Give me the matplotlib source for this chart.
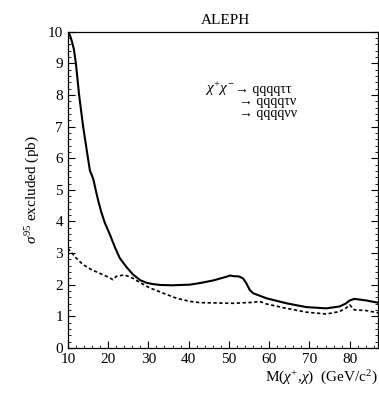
import matplotlib
matplotlib.use("Agg")
import matplotlib.pyplot as plt
from matplotlib.ticker import MultipleLocator

plt.rcParams['font.family'] = ['Liberation Serif', 'DejaVu Serif']
plt.rcParams['mathtext.fontset'] = 'custom'
plt.rcParams['mathtext.rm'] = 'Liberation Serif'
plt.rcParams['mathtext.it'] = 'Liberation Serif:italic'

# 95% CL excluded cross section, all channels combined (solid)
mass_all = [10, 10.5, 11, 11.5, 12, 12.4, 12.8, 13.3, 13.8, 14.4, 15, 15.5, 16.0,
            16.4, 17, 17.5, 18.3, 19.2, 20.4, 21.7, 22.9, 24.6, 26.2, 28, 29.5,
            31, 33, 36, 40.3, 42.8, 46, 49.4, 50.3, 51, 52.5, 53.5, 54.3,
            55.2, 56, 59.3, 64.3, 69.2, 74.2, 77.5, 79, 80, 81.2, 84.1, 87]
xsec_all = [10.0, 9.9, 9.7, 9.45, 9.0, 8.5, 8.0, 7.5, 7.0, 6.5, 6.0, 5.6, 5.45,
            5.3, 4.95, 4.68, 4.3, 3.95, 3.6, 3.18, 2.84, 2.55, 2.32, 2.14, 2.06,
            2.02, 1.99, 1.98, 2.0, 2.05, 2.13, 2.25, 2.29, 2.27, 2.26, 2.2, 2.05,
            1.83, 1.73, 1.57, 1.41, 1.29, 1.25, 1.31, 1.4, 1.5, 1.55, 1.5, 1.43]

# Lower curve (dashed)
mass_low = [10, 12, 13.8, 15.8, 17.9, 19.5, 21.2, 22, 24.1, 26.2, 28, 30.3, 33.7,
            37, 40.3, 42.8, 51, 56, 57.6, 59.3, 64.3, 69.2, 74.2, 77.5, 79,
            80, 81.2, 84.1, 87]
xsec_low = [3.15, 2.85, 2.63, 2.48, 2.36, 2.27, 2.16, 2.26, 2.31, 2.2, 2.06,
            1.9, 1.73, 1.57, 1.47, 1.43, 1.41, 1.44, 1.47, 1.39, 1.25, 1.13,
            1.07, 1.15, 1.25, 1.36, 1.2, 1.18, 1.11]

fig = plt.figure(figsize=(3.79, 3.98), dpi=100)
ax = fig.add_axes([0.179, 0.126, 0.818, 0.794])

ax.plot(mass_all, xsec_all, color='black', lw=1.5)
ax.plot(mass_low, xsec_low, color='black', lw=1.2, ls=(0, (2, 1.5)))

ax.set_xlim(10, 87)
ax.set_ylim(0, 10)
ax.xaxis.set_major_locator(MultipleLocator(10))
ax.xaxis.set_minor_locator(MultipleLocator(2))
ax.yaxis.set_major_locator(MultipleLocator(1))
ax.yaxis.set_minor_locator(MultipleLocator(0.2))
ax.tick_params(which='both', direction='in', top=False, right=True,
               labelsize=11)
ax.tick_params(which='major', length=5)
ax.tick_params(which='minor', length=2.5)
for s in ax.spines.values():
    s.set_linewidth(0.9)

ax.set_ylabel(r'$\sigma^{95}$ excluded (pb)', fontsize=11, labelpad=4)
ax.set_xlabel(r'M($\chi^{+}$,$\chi$)  (GeV/c$^{2}$)', fontsize=11,
              loc='right', labelpad=2)
ax.set_title('ALEPH', fontsize=11, pad=6, x=0.51)

# decay channels
ax.text(0.442, 0.807, r'$\chi^{+}\chi^{-}$', transform=ax.transAxes,
        fontsize=11, va='baseline')
ax.text(0.54, 0.807, '→ qqqqττ', transform=ax.transAxes,
        fontsize=10, va='baseline')
ax.text(0.552, 0.769, '→ qqqqτν', transform=ax.transAxes,
        fontsize=10, va='baseline')
ax.text(0.552, 0.731, '→ qqqqνν', transform=ax.transAxes,
        fontsize=10, va='baseline')

fig.savefig('out.png', dpi=100)
